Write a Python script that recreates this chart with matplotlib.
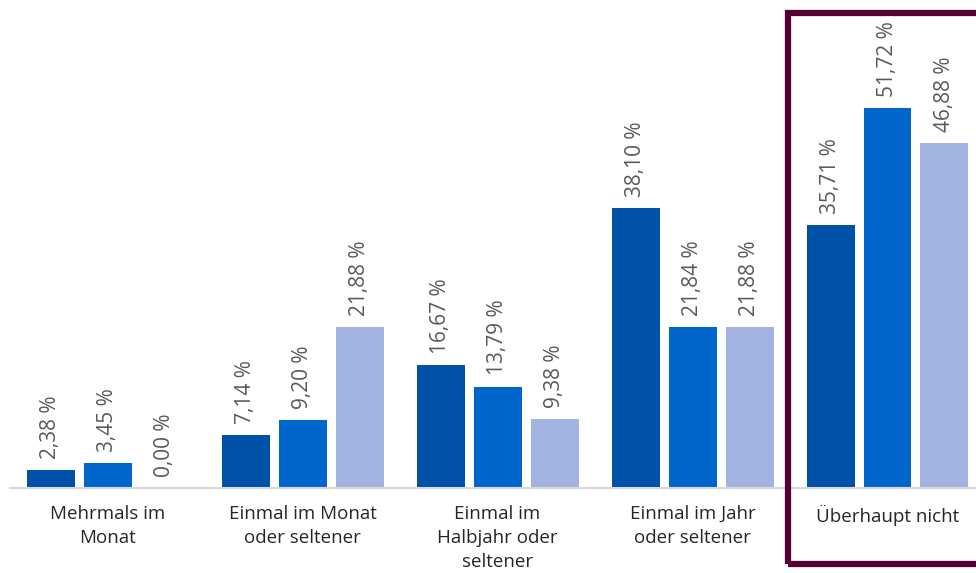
import matplotlib.pyplot as plt
import numpy as np
from matplotlib.patches import Rectangle

categories = ["Mehrmals im\nMonat", "Einmal im Monat\noder seltener", "Einmal im\nHalbjahr oder\nseltener",
              "Einmal im Jahr\noder seltener", "Überhaupt nicht"]
series_a = [2.38, 7.14, 16.67, 38.10, 35.71]
series_b = [3.45, 9.20, 13.79, 21.84, 51.72]
series_c = [0.00, 21.88, 9.38, 21.88, 46.88]
colors = ["#0052A8", "#0066CC", "#A2B3E2"]

plt.rcParams['font.family'] = ['Open Sans', 'DejaVu Sans']

fig = plt.figure(figsize=(9.76, 5.73), dpi=100)
ax = fig.add_axes([10 / 976, 85 / 573, 975 / 976, 478 / 573])

x = np.arange(len(categories))
w = 48 / 195
step = 57 / 195
for i, (vals, col) in enumerate(zip([series_a, series_b, series_c], colors)):
    pos = x + (i - 1) * step
    ax.bar(pos, vals, width=w, color=col)
    for p, v in zip(pos, vals):
        ax.annotate(f"{v:.2f} %".replace(".", ","), (p, v), xytext=(0, 8), textcoords="offset points",
                    rotation=90, ha="center", va="bottom", fontsize=15, color="#595959")

ax.set_xlim(-0.5, 4.5)
ax.set_ylim(0, 65)
for s in ["top", "right", "left"]:
    ax.spines[s].set_visible(False)
ax.spines["bottom"].set_color("#D9D9D9")
ax.spines["bottom"].set_linewidth(1.5)
ax.set_yticks([])
ax.set_xticks(x)
ax.set_xticklabels(categories, fontsize=13.5, color="#262626", linespacing=1.45)
ax.tick_params(axis="x", length=0, pad=12)

# highlight box around the last group
fig.patches.append(Rectangle((788 / 976, 9 / 573), 200 / 976, 551 / 573, transform=fig.transFigure,
                             fill=False, edgecolor="#560033", linewidth=4.5))

fig.savefig("out.png", dpi=100)
